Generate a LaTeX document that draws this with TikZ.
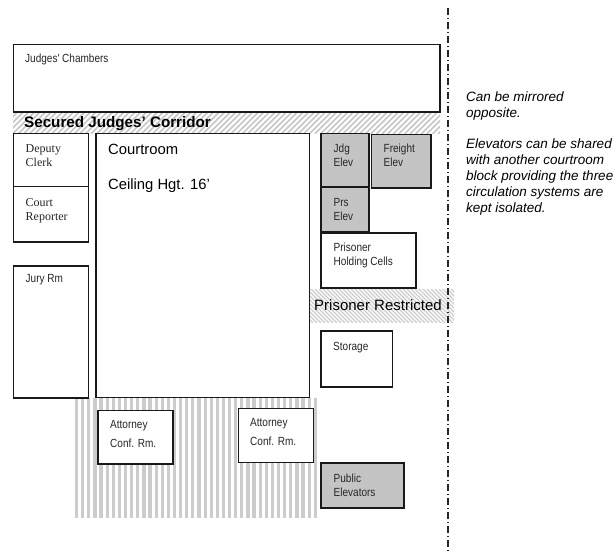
\documentclass[tikz,border=0pt]{standalone}
\usepackage{fontspec}
\setmainfont{Liberation Sans}
\newfontfamily\condfont[FakeStretch=0.85]{Liberation Sans}
\newfontfamily\serifroom{Liberation Serif}
\tikzset{
  room/.style={draw=black!90,line width=1.4pt,fill=white},
  grayroom/.style={room,fill=black!23},
  lbl/.style={anchor=north west,inner sep=0pt,align=left,font=\condfont\fontsize{11.8}{14.2}\selectfont,text=black!85},
  attylbl/.style={lbl,font=\condfont\fontsize{11.8}{19}\selectfont},
  serlbl/.style={anchor=north west,inner sep=0pt,align=left,font=\serifroom\fontsize{12}{14}\selectfont,text=black!85},
  biglbl/.style={anchor=north west,inner sep=0pt,align=left,font=\fontsize{14.8}{18}\selectfont},
  note/.style={anchor=north west,inner sep=0pt,align=left,font=\itshape\fontsize{13.5}{16}\selectfont},
  stripe/.style={line width=3.2pt,draw=black!20},
  hatchA/.style={line width=1.6pt,draw=black!22},
  hatchB/.style={line width=1.2pt,draw=black!20}
}
\begin{document}
\begin{tikzpicture}[x=1pt,y=-1pt]
\useasboundingbox (0,0) rectangle (616,552);
% vertical stripes
\foreach \i in {0,...,39}{
  \draw[stripe] ({76.6+\i*6.12},398) -- ({76.6+\i*6.12},518);
}
% corridor hatches
\begin{scope}
\clip (13,113) rectangle (440,133);
\foreach \i in {0,...,85}{
  \draw[hatchA] ({-10+\i*5.6},134) -- ({12+\i*5.6},112);
}
\end{scope}
\begin{scope}
\clip (310,289) rectangle (454,322);
\foreach \i in {0,...,50}{
  \draw[hatchB] ({270+\i*4},288) -- ({305+\i*4},323);
}
\end{scope}
\node[anchor=north west,inner sep=0pt,font=\bfseries\fontsize{15.2}{17}\selectfont] (t2) at (24,116.5) {Secured Judges' Corridor};
% rooms
\draw[room] (13.5,44.5) rectangle (440,112);
\draw[room] (96,133.5) rectangle (309.5,397.5);
\draw[room] (13.5,133.5) rectangle (88.5,186.5);
\draw[room] (13.5,186.5) rectangle (88.5,242);
\draw[room] (13.5,266) rectangle (88.5,398);
\draw[grayroom] (321,133.5) rectangle (369,187);
\draw[grayroom] (371.5,134.5) rectangle (431,188);
\draw[grayroom] (321,187.5) rectangle (369,232);
\draw[room] (321,233) rectangle (416,288);
\draw[room] (321,331) rectangle (392.5,387);
\draw[grayroom] (321,463) rectangle (404,508);
\draw[room] (98,410.5) rectangle (173,464);
\draw[room] (238.5,408.5) rectangle (313.5,462.5);
% center line
\draw[line width=1.1pt,black!85,dash pattern=on 7pt off 3pt on 1pt off 3pt] (448,8) -- (448,552);
% labels
\node[lbl] (t1) at (25,53.5) {Judges' Chambers};
\node[serlbl] (t3) at (25.5,144) {Deputy\\Clerk};
\node[serlbl] (t4) at (25.5,198) {Court\\Reporter};
\node[lbl] (t5) at (25.5,274.5) {Jury Rm};
\node[biglbl] (t6) at (108,144) {Courtroom};
\node[biglbl] (t7) at (108,179) {Ceiling Hgt. 16'};
\node[lbl] (t8) at (333.5,144) {Jdg\\Elev};
\node[lbl] (t9) at (383.5,144) {Freight\\Elev};
\node[lbl] (t10) at (333.5,198) {Prs\\Elev};
\node[lbl] (t11) at (333.5,243) {Prisoner\\Holding Cells};
\node[anchor=north west,inner sep=0pt,font=\fontsize{15}{17}\selectfont] (t12) at (314,299) {Prisoner Restricted};
\node[lbl] (t13) at (333,342) {Storage};
\node[lbl] (t14) at (333.5,474) {Public\\Elevators};
\node[attylbl] (t15) at (110,420) {Attorney\\Conf. Rm.};
\node[attylbl] (t16) at (250,418) {Attorney\\Conf. Rm.};
\node[note] (n1) at (466,92) {Can be mirrored\\opposite.};
\node[note] (n2) at (466,139) {Elevators can be shared\\with another courtroom\\block providing the three\\circulation systems are\\kept isolated.};
\end{tikzpicture}
\end{document}
